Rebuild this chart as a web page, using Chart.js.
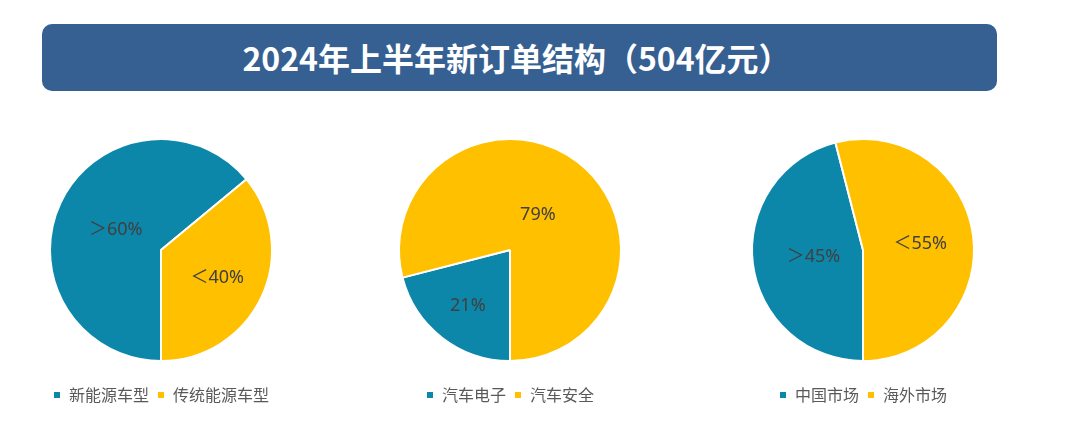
<!DOCTYPE html>
<html>
<head>
<meta charset="utf-8">
<script src="https://cdn.jsdelivr.net/npm/chart.js@4"></script>
<style>
  html, body { margin: 0; padding: 0; background: #fff; }
  body { width: 1080px; height: 438px; position: relative; overflow: hidden;
    font-family: "Noto Sans CJK SC", "Noto Sans", sans-serif; }
  .title-bar { position: absolute; left: 42px; top: 24px; width: 955px; height: 67px;
    background: #376092; border-radius: 10px; color: #fff; font-weight: bold;
    font-size: 32px; line-height: 66px; text-align: center; text-indent: -6px; }
  .pie-box { position: absolute; top: 121px; width: 300px; height: 292px; }
</style>
</head>
<body>
<div class="title-bar">2024年上半年新订单结构（504亿元）</div>
<div class="pie-box" style="left:11px"><canvas id="pie-0"></canvas></div>
<div class="pie-box" style="left:360px"><canvas id="pie-1"></canvas></div>
<div class="pie-box" style="left:713px"><canvas id="pie-2"></canvas></div>
<script>
// data
const vehicleLabels = ['新能源车型', '传统能源车型'];
const vehicleValues = [64, 36];
const vehicleText = ['＞60%', '＜40%'];

const productLabels = ['汽车电子', '汽车安全'];
const productValues = [21, 79];
const productText = ['21%', '79%'];

const marketLabels = ['中国市场', '海外市场'];
const marketValues = [46, 54];
const marketText = ['＞45%', '＜55%'];

const sliceColors = ['#0C87AA', '#FFC000'];

// label distance from centre, as a share of the radius
const pieLabelPos = [[0.45, 0.56], [0.62, 0.41], [0.45, 0.52]];

/**
 * @name sliceText
 * draws the value text inside every slice
 */
const sliceText = {
  id: 'sliceText',
  afterDatasetsDraw(chart, args, opts) {
    const ctx = chart.ctx,
      meta = chart.getDatasetMeta(0);

    ctx.save();
    ctx.font = '18px "Noto Sans", "Noto Sans CJK SC", sans-serif';
    ctx.fillStyle = '#404040';
    ctx.textAlign = 'center';
    ctx.textBaseline = 'middle';
    meta.data.forEach((arc, i) => {
      const p = arc.getProps(['x', 'y', 'startAngle', 'endAngle', 'outerRadius'], true),
        mid = (p.startAngle + p.endAngle) / 2,
        r = p.outerRadius * opts.pos[i];
      ctx.fillText(opts.text[i], p.x + Math.cos(mid) * r, p.y + Math.sin(mid) * r + 1);
    });
    ctx.restore();
  }
};

const initPie = (id, labels, values, text, pos) => {
  new Chart(document.getElementById(id), {
    type: 'pie',
    data: {
      labels: labels,
      datasets: [{
        data: values,
        backgroundColor: sliceColors,
        borderColor: '#ffffff',
        borderWidth: 2,
        hoverOffset: 0,
        radius: 111
      }]
    },
    options: {
      responsive: true,
      maintainAspectRatio: false,
      animation: false,
      rotation: 180,
      layout: { padding: 0 },
      plugins: {
        tooltip: { enabled: false },
        legend: {
          position: 'bottom',
          labels: {
            boxWidth: 8,
            boxHeight: 8,
            padding: 8,
            color: '#595959',
            font: { family: '"Noto Sans CJK SC", sans-serif', size: 16 }
          }
        },
        sliceText: { text: text, pos: pos }
      }
    },
    plugins: [sliceText]
  });
};

initPie('pie-0', vehicleLabels, vehicleValues, vehicleText, pieLabelPos[0]);
initPie('pie-1', productLabels, productValues, productText, pieLabelPos[1]);
initPie('pie-2', marketLabels, marketValues, marketText, pieLabelPos[2]);
</script>
</body>
</html>
